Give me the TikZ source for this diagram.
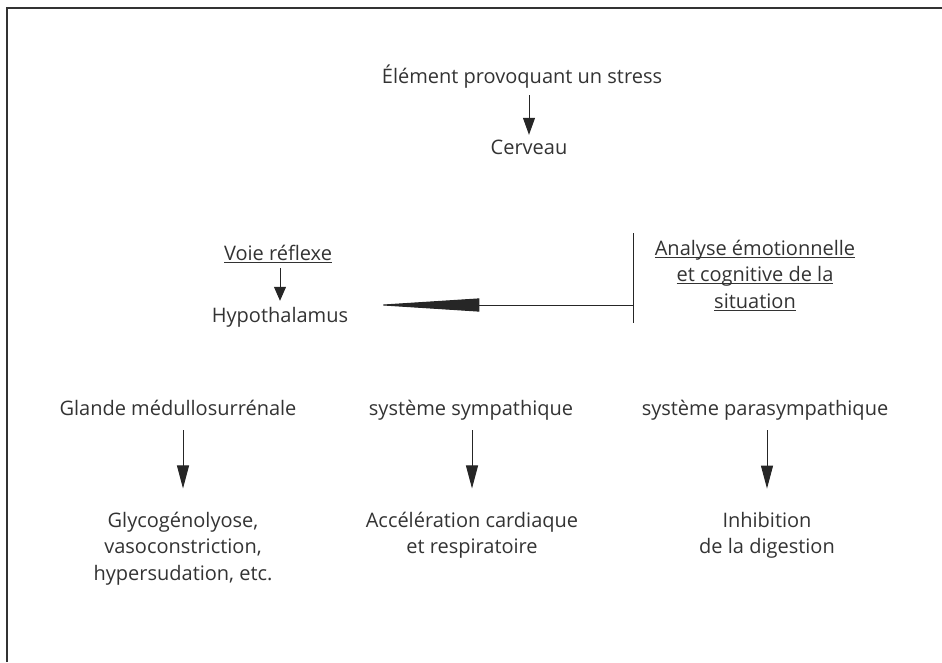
\documentclass[tikz,border=0pt]{standalone}
\usepackage{fontspec}
\setmainfont{Open Sans}
\usetikzlibrary{positioning, arrows.meta, calc}
\newcommand\ssligne[1]{\setbox0\hbox{#1}\rlap{\rule[-2.8pt]{\wd0}{0.9pt}}\box0}

\begin{document}
\begin{tikzpicture}[x=1pt, y=-1pt,
    lbl/.style={inner sep=0pt, anchor=base, text=black!80, align=center,
      font=\fontsize{20}{26.5}\selectfont},
    mot/.style={lbl, text height=15pt, text depth=5pt},
    arr/.style={-{Triangle[length=#1, width=12pt]}, line width=1pt, black!85},
    arr/.default=17pt,
    bigarr/.style={-{Triangle[length=104pt, width=13pt]}, line width=1pt, black!85}]
  \useasboundingbox (0,0) rectangle (942,662);
  % cadre
  \draw[line width=2pt, black!80] (7,662) -- (7,8) -- (942,8);

  % haut
  \node[mot] (stress) at (522,83) {Élément provoquant un stress};
  \node[mot] (cerveau) at (529,154) {Cerveau};

  % milieu
  \node[mot] (voie) at (278,260) {\ssligne{Voie réflexe}};
  \node[mot] (hypo) at (280,322) {Hypothalamus};
  \node[lbl] (analyse) at (755,308) {\ssligne{Analyse émotionnelle}\\
    \ssligne{et cognitive de la}\\ \ssligne{situation}};
  \coordinate (bartop) at (633,233);
  \coordinate (barbot) at (633,323);
  \coordinate (barmid) at (633,305);

  % bas
  \node[mot] (glande) at (178,415) {Glande médullosurrénale};
  \node[mot] (symp) at (471,415) {système sympathique};
  \node[mot] (para) at (765,415) {système parasympathique};
  \node[lbl] (glyco) at (183,580) {Glycogénolyose,\\ vasoconstriction,\\ hypersudation, etc.};
  \node[lbl] (accel) at (472,553.5) {Accélération cardiaque\\ et respiratoire};
  \node[lbl] (inhib) at (767,553.5) {Inhibition\\ de la digestion};

  \draw[arr, shorten <=7pt, shorten >=4pt] (stress.south -| cerveau.north) -- (cerveau.north);
  \draw[arr=14pt, shorten <=3pt, shorten >=6pt] (voie.south -| hypo.north) -- (hypo.north);
  \draw[line width=1pt, black!85] (bartop) -- (barbot);
  \draw[bigarr, shorten >=27pt] (barmid) -- (hypo.east |- barmid);
  \draw[arr=23pt, shorten <=10pt, shorten >=23pt] (glande.south -| glyco.north) -- (glyco.north);
  \draw[arr=23pt, shorten <=10pt, shorten >=23pt] (symp.south -| accel.north) -- (accel.north);
  \draw[arr=23pt, shorten <=10pt, shorten >=23pt] (para.south -| inhib.north) -- (inhib.north);
\end{tikzpicture}
\end{document}
